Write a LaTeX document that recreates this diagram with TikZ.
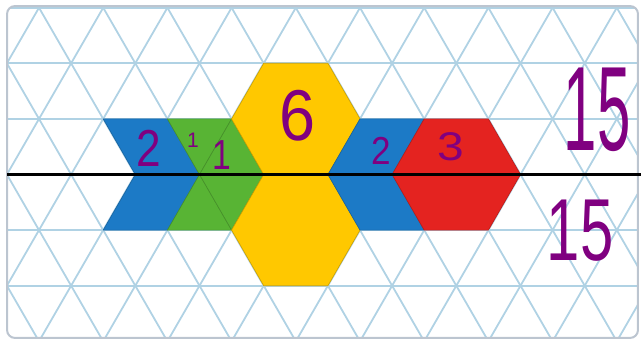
\documentclass[tikz,border=0pt]{standalone}
\usepackage{fontspec}
\setmainfont{Liberation Sans}

\definecolor{gridblue}{RGB}{176,210,228}
\definecolor{framegray}{RGB}{188,197,208}
\definecolor{blockblue}{RGB}{28,122,198}
\definecolor{blockgreen}{RGB}{88,180,52}
\definecolor{blockyellow}{RGB}{255,200,0}
\definecolor{blockred}{RGB}{228,35,32}
\definecolor{inkpurple}{RGB}{128,0,128}

\begin{document}
\begin{tikzpicture}[x=64.2pt, y=-55.6pt,
    tile/.style={fill=#1, draw=#1!80!black, line width=0.6pt, line join=round},
    num/.style={text=inkpurple, inner sep=0pt, font=\fontsize{#1}{#1}\selectfont}]
    \useasboundingbox (-0.6075,-0.1385) rectangle (9.377,5.977);

    % Triangle grid
    \begin{scope}
        \clip[rounded corners=8pt] (-0.498,-0.03) rectangle (9.33,5.94);
        \foreach \r in {0,...,6}
            \draw[gridblue, line width=1.8pt] (-1,\r) -- (10,\r);
        \foreach \k in {-4,...,13} {
            \draw[gridblue, line width=1.8pt] (\k-0.5,-1) -- (\k+3.5,7);
            \draw[gridblue, line width=1.8pt] (\k+0.5,-1) -- (\k-3.5,7);
        }
    \end{scope}
    \draw[framegray, line width=2pt, rounded corners=8pt] (-0.498,-0.03) rectangle (9.33,5.94);

    % Upper half
    \draw[tile=blockblue] (1,2) -- (2,2) -- (2.5,3) -- (1.5,3) -- cycle;
    \draw[tile=blockgreen] (2,2) -- (3,2) -- (2.5,3) -- cycle;
    \draw[tile=blockgreen] (3,2) -- (3.5,3) -- (2.5,3) -- cycle;
    \draw[tile=blockyellow] (3.5,1) -- (4.5,1) -- (5,2) -- (4.5,3) -- (3.5,3) -- (3,2) -- cycle;
    \draw[tile=blockblue] (5,2) -- (6,2) -- (5.5,3) -- (4.5,3) -- cycle;
    \draw[tile=blockred] (6,2) -- (7,2) -- (7.5,3) -- (5.5,3) -- cycle;

    % Lower half (mirror image)
    \draw[tile=blockblue] (1.5,3) -- (2.5,3) -- (2,4) -- (1,4) -- cycle;
    \draw[tile=blockgreen] (2.5,3) -- (3,4) -- (2,4) -- cycle;
    \draw[tile=blockgreen] (2.5,3) -- (3.5,3) -- (3,4) -- cycle;
    \draw[tile=blockyellow] (3.5,3) -- (4.5,3) -- (5,4) -- (4.5,5) -- (3.5,5) -- (3,4) -- cycle;
    \draw[tile=blockblue] (4.5,3) -- (5.5,3) -- (6,4) -- (5,4) -- cycle;
    \draw[tile=blockred] (5.5,3) -- (7.5,3) -- (7,4) -- (6,4) -- cycle;

    % Line of symmetry
    \draw[line width=2.2pt] (-0.498,3) -- (9.377,3);

    % Counts
    \node[num=52, xscale=0.85] (twoL) at (1.713,2.523) {2};
    \node[num=21] (oneA) at (2.399,2.379) {1};
    \node[num=42, xscale=0.8] (oneB) at (2.850,2.649) {1};
    \node[num=72, xscale=0.9] (six) at (4.034,1.948) {6};
    \node[num=39, xscale=0.9] (twoR) at (5.327,2.577) {2};
    \node[num=40, xscale=1.2] (three) at (6.417,2.505) {3};
    \node[num=120, xscale=0.5] (sumTop) at (8.692,1.840) {15};
    \node[num=88, xscale=0.68] (sumBot) at (8.427,4.016) {15};
\end{tikzpicture}
\end{document}
